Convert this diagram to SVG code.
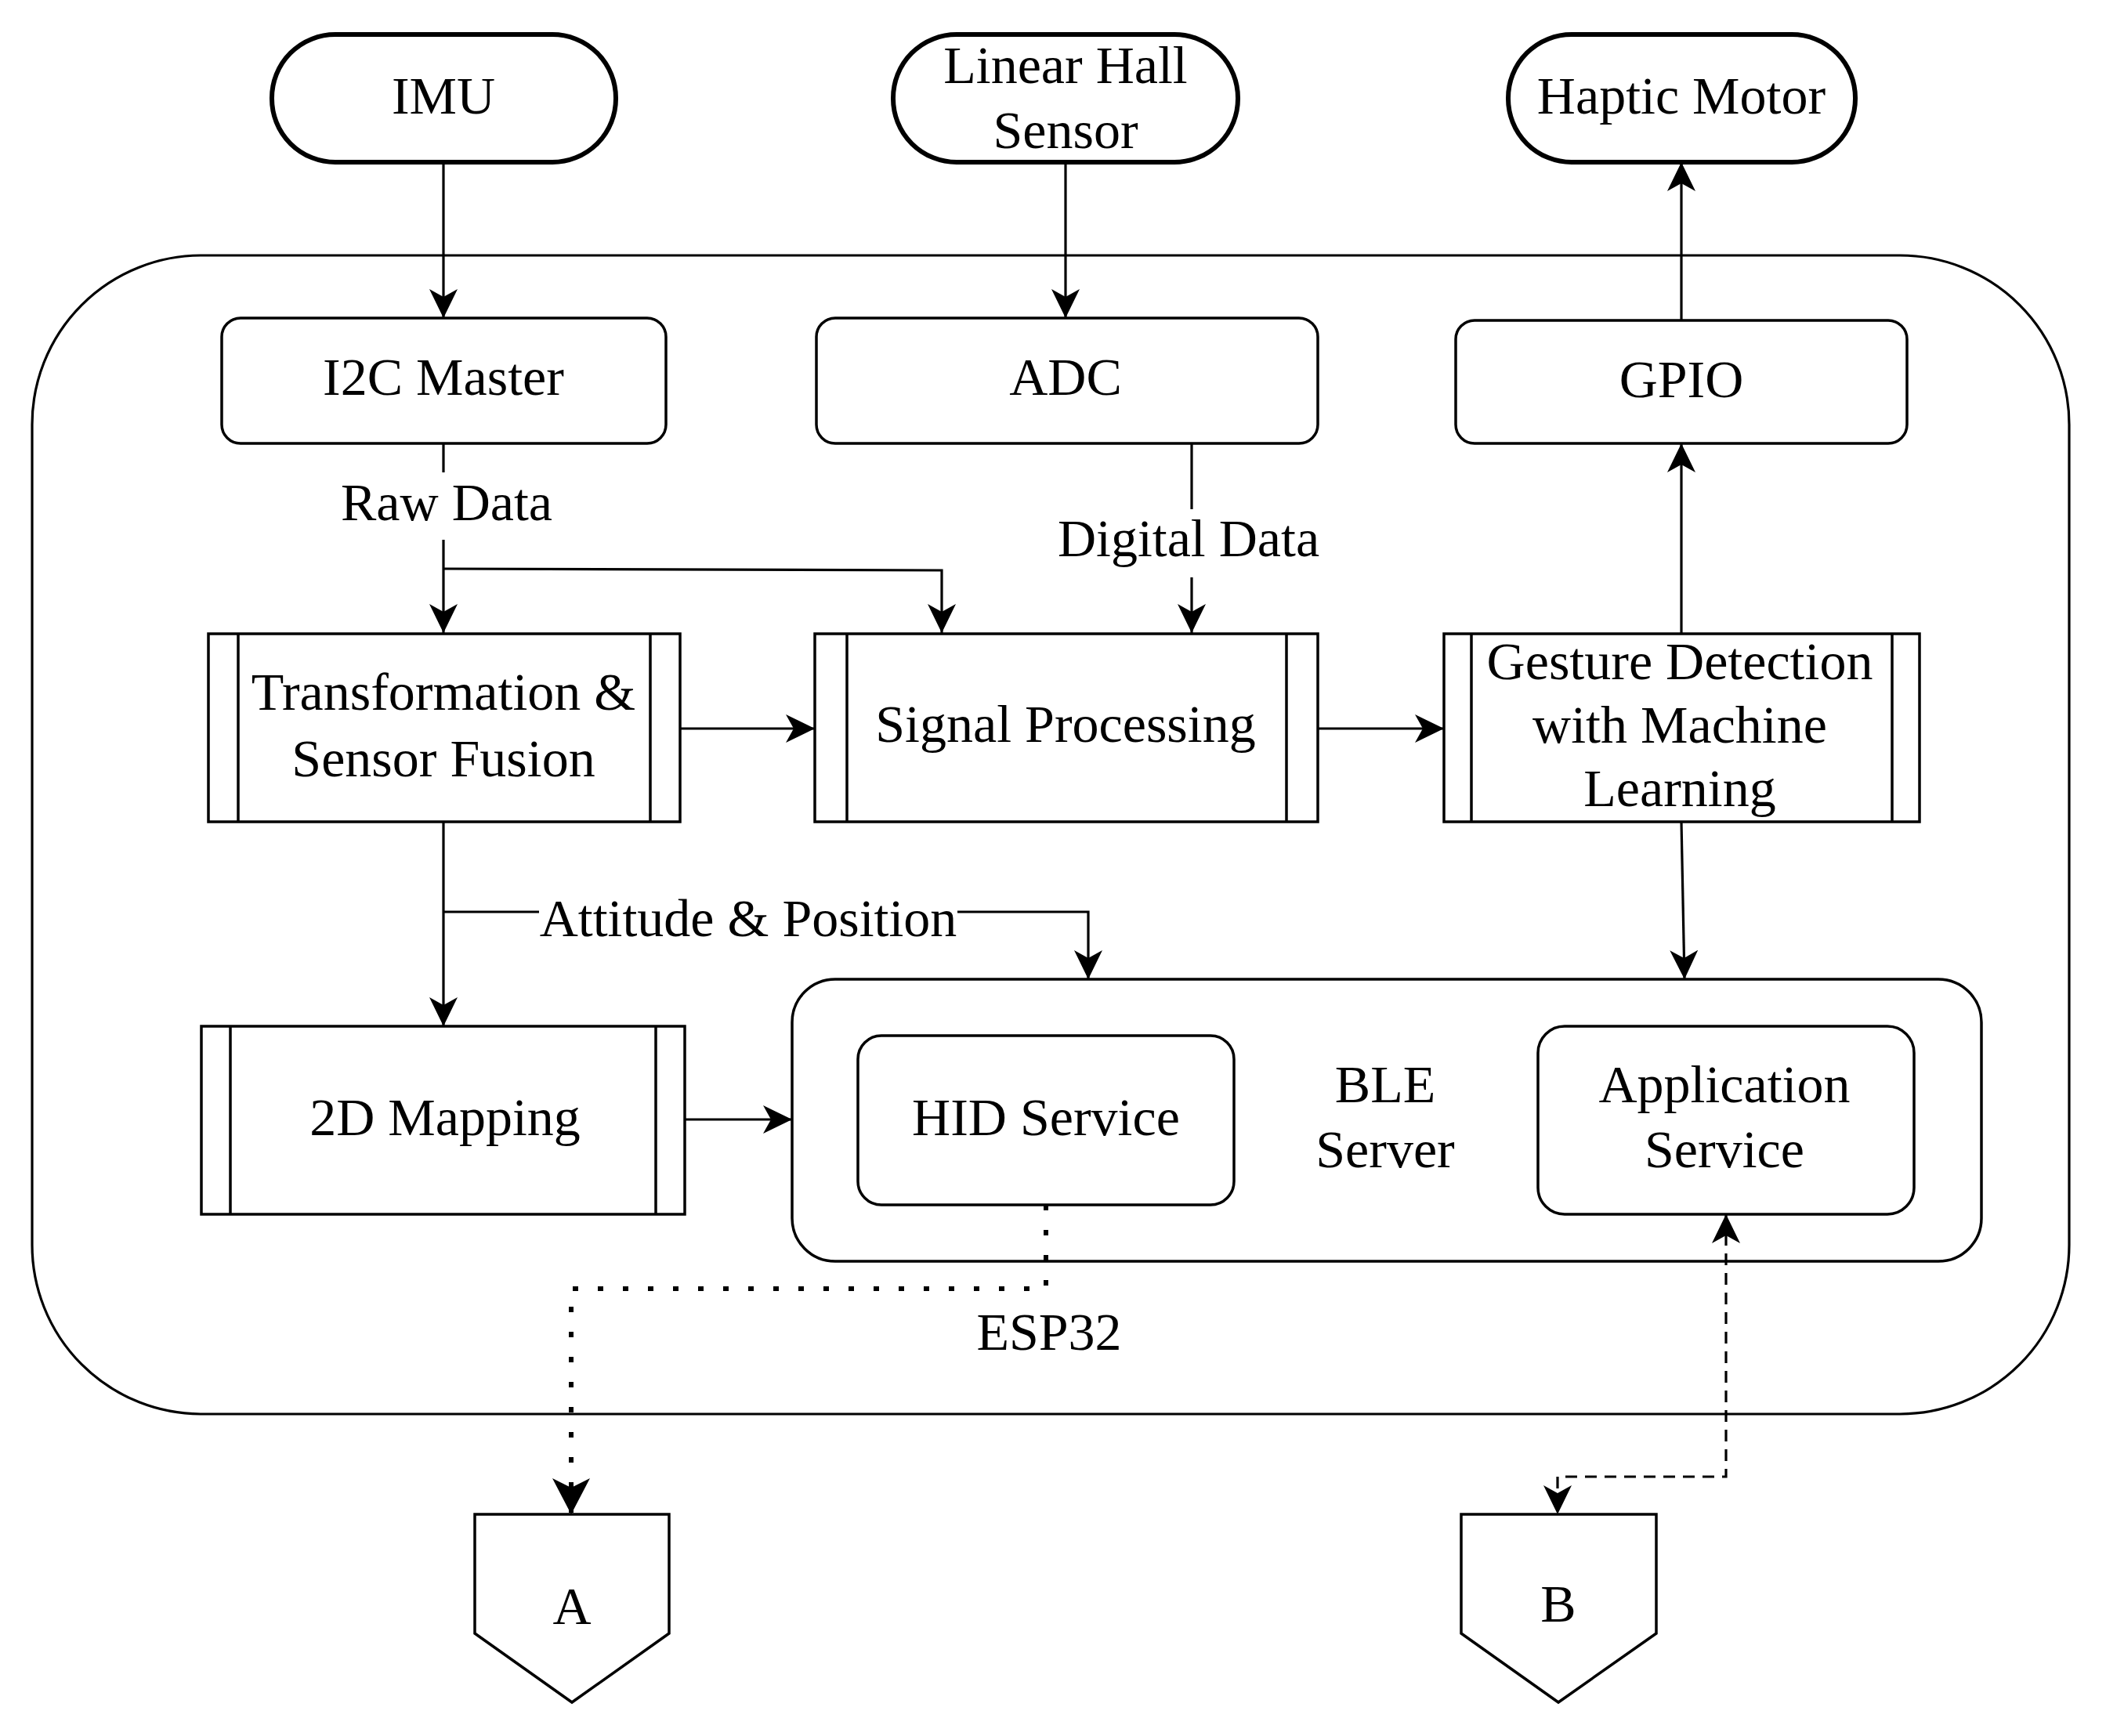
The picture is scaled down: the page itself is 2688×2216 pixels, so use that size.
<svg xmlns="http://www.w3.org/2000/svg" width="2688" height="2216" viewBox="0 0 2688 2216">
<style>
text{font-family:"Liberation Serif","Times New Roman",serif;font-size:68px;fill:#000;text-anchor:middle}
.box{fill:#fff;stroke:#000;stroke-width:3.5}
.pill{fill:#fff;stroke:#000;stroke-width:6}
.bar{fill:none;stroke:#000;stroke-width:3.5}
.c{fill:none;stroke:#000;stroke-width:3.2}
</style>
<defs>
<marker id="arr" markerUnits="userSpaceOnUse" viewBox="0 0 38 36" refX="37" refY="18" markerWidth="38" markerHeight="36" orient="auto-start-reverse"><path d="M0,0 L37,18 L0,36 L10,18 Z" fill="#000"/></marker>
<marker id="arrBig" markerUnits="userSpaceOnUse" viewBox="0 0 48 48" refX="46" refY="24" markerWidth="48" markerHeight="48" orient="auto"><path d="M0,0 L46,24 L0,48 L12,24 Z" fill="#000"/></marker>
</defs>
<rect width="2688" height="2216" fill="#fff"/>

<g id="esp32">
<rect x="41" y="326" width="2600" height="1479" rx="216" ry="216" fill="#fff" stroke="#000" stroke-width="3.2"/>
<text x="1339" y="1723">ESP32</text>
</g>

<g id="imu"><rect class="pill" x="347" y="44" width="439" height="163" rx="81" ry="81"/><text x="566" y="145">IMU</text></g>
<g id="hall"><rect class="pill" x="1140" y="44" width="440" height="163" rx="81" ry="81"/><text x="1360" y="106">Linear Hall</text><text x="1360" y="189">Sensor</text></g>
<g id="haptic"><rect class="pill" x="1925" y="44" width="443" height="163" rx="81" ry="81"/><text x="2146" y="145">Haptic Motor</text></g>

<g id="i2c"><rect class="box" x="283" y="406" width="567" height="160" rx="24" ry="24"/><text x="566" y="504">I2C Master</text></g>
<g id="adc"><rect class="box" x="1042" y="406" width="640" height="160" rx="24" ry="24"/><text x="1360" y="504">ADC</text></g>
<g id="gpio"><rect class="box" x="1858" y="409" width="576" height="157" rx="24" ry="24"/><text x="2146" y="507">GPIO</text></g>

<g id="fusion"><rect class="box" x="266" y="809" width="602" height="240"/><path class="bar" d="M304,809 V1049 M830,809 V1049"/><text x="566" y="906">Transformation &amp;</text><text x="566" y="991">Sensor Fusion</text></g>
<g id="signal"><rect class="box" x="1040" y="809" width="642" height="240"/><path class="bar" d="M1081,809 V1049 M1642,809 V1049"/><text x="1360" y="947">Signal Processing</text></g>
<g id="gesture"><rect class="box" x="1843" y="809" width="607" height="240"/><path class="bar" d="M1878,809 V1049 M2415,809 V1049"/><text x="2144" y="867">Gesture Detection</text><text x="2144" y="948">with Machine</text><text x="2144" y="1029">Learning</text></g>

<g id="mapping"><rect class="box" x="257" y="1310" width="617" height="240"/><path class="bar" d="M294,1310 V1550 M837,1310 V1550"/><text x="568" y="1449">2D Mapping</text></g>

<g id="ble"><rect class="box" x="1011" y="1250" width="1518" height="360" rx="55" ry="55"/><text x="1768" y="1407">BLE</text><text x="1768" y="1490">Server</text></g>
<g id="hid"><rect class="box" x="1095" y="1322" width="480" height="216" rx="30" ry="30"/><text x="1335" y="1449">HID Service</text></g>
<g id="app"><rect class="box" x="1963" y="1310" width="480" height="240" rx="34" ry="34"/><text x="2201" y="1407">Application</text><text x="2201" y="1490">Service</text></g>

<g id="A"><polygon class="box" points="606,1933 854,1933 854,2085 730,2173 606,2085"/><text x="730" y="2073">A</text></g>
<g id="B"><polygon class="box" points="1865,1933 2114,1933 2114,2085 1989,2173 1865,2085"/><text x="1989" y="2070">B</text></g>

<g id="connectors">
<path class="c" d="M566,207 V406" marker-end="url(#arr)"/>
<path class="c" d="M1360,207 V406" marker-end="url(#arr)"/>
<path class="c" d="M566,566 V603 M566,689 V808" marker-end="url(#arr)"/>
<path class="c" d="M566,726 L1202,728 V808" marker-end="url(#arr)"/>
<path class="c" d="M1521,566 V650 M1521,737 V808" marker-end="url(#arr)"/>
<path class="c" d="M868,930 H1040" marker-end="url(#arr)"/>
<path class="c" d="M1682,930 H1843" marker-end="url(#arr)"/>
<path class="c" d="M2146,809 V566" marker-end="url(#arr)"/>
<path class="c" d="M2146,409 V207" marker-end="url(#arr)"/>
<path class="c" d="M566,1049 V1310" marker-end="url(#arr)"/>
<path class="c" d="M566,1164 H688 M1222,1164 H1389 V1250" marker-end="url(#arr)"/>
<path class="c" d="M874,1429 H1011" marker-end="url(#arr)"/>
<path class="c" d="M2146,1049 L2150,1250" marker-end="url(#arr)"/>
<path fill="none" stroke="#000" stroke-width="6" stroke-dasharray="7 25" d="M1335,1538 V1645 H729 V1933" marker-end="url(#arrBig)"/>
<path fill="none" stroke="#000" stroke-width="3.2" stroke-dasharray="15 10" d="M2203,1550 V1885 H1988 V1933" marker-start="url(#arr)" marker-end="url(#arr)"/>
<text x="570" y="664">Raw Data</text>
<text x="1517" y="710">Digital Data</text>
<text x="955" y="1195">Attitude &amp; Position</text>
</g>
</svg>
